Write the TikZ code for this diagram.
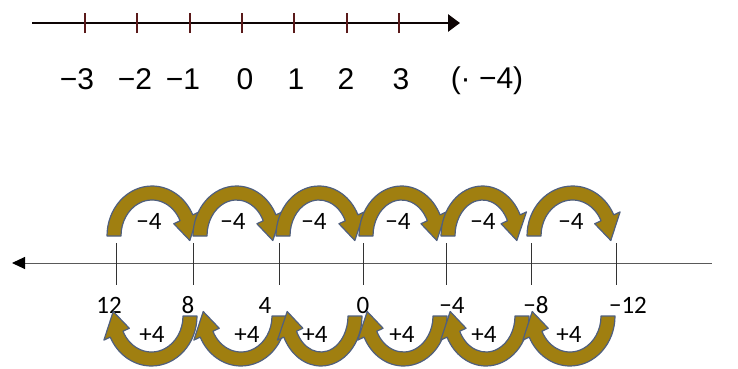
\documentclass[tikz,border=0pt]{standalone}
\usepackage{fontspec}
\usepackage{tikz}
\usetikzlibrary{arrows.meta}
\newfontfamily\arialfont{Liberation Sans}
\newfontfamily\calfont{Carlito}
\definecolor{jumpgold}{HTML}{A07F10}
\definecolor{jumpedge}{HTML}{4F5F7F}
\definecolor{tickred}{HTML}{5A1A1A}

\begin{document}
\begin{tikzpicture}[
            x=1pt, y=1pt,
            axis/.style={line width=2.8pt, draw=black!85!tickred},
            tick/.style={line width=2pt, draw=tickred},
            thinaxis/.style={line width=1pt, draw=black!65},
            thintick/.style={line width=.8pt, draw=black!80},
            jump/.style={fill=jumpgold, draw=jumpedge, line width=1.2pt, line join=round},
            toplbl/.style={font=\arialfont\fontsize{30}{34}\selectfont, inner sep=0pt},
            numlbl/.style={font=\calfont\fontsize{25}{29}\selectfont, inner sep=0pt},
        ]
            \useasboundingbox (0,0) rectangle (738,368);

            % the upper number line with its ticks and labels
            \draw[axis, -{Triangle[length=12pt,width=17pt]}] (32,345) -- (460,345);
            \foreach \i in {0,...,6}{
                \coordinate (top\i) at ({85+52.3*\i},345);
                \draw[tick] (top\i) ++(0,-10) -- ++(0,20);
            }
            \foreach \x/\t/\n in {77/−3/a, 135/−2/b, 183/−1/c, 245/0/d, 296/1/e, 346/2/f, 401/3/g}{
                \node[toplbl] (top-\n) at (\x,289) {\t};
            }
            \node[toplbl] (factor) at (487,287) {(· −4)};

            % the lower number line, running to the left
            \draw[thinaxis, {Triangle[length=13pt,width=12pt,color=black]}-] (12,105) -- (712,105);
            \foreach \x/\t/\n/\lx in {116/12/a/109, 193/8/b/188, 279/4/c/265, 363/0/d/363, 446/−4/e/452, 531/−8/f/536, 616/−12/g/628}{
                \coordinate (bot\n) at (\x,105);
                \draw[thintick] (bot\n) ++(0,20) -- ++(0,-42);
                \node[numlbl] (num-\n) at (\lx,63) {\t};
            }

            % jumps: foot, tip, baseline, turn (0 above the line, 180 below it)
            \foreach \f/\t/\y/\r in {114/190/132/0, 200/273/132/0, 283/355/132/0, 366/437/132/0, 448/517/132/0, 534/611/132/0,
                                     190/113/52/180, 279/203/52/180, 355/287/52/180, 440/367/52/180, 522/450/52/180, 608/532/52/180}{
                \pgfmathsetmacro\cx{(\f+\t)/2}
                \pgfmathsetmacro\rx{abs(\t-\f)/2}
                \pgfmathsetmacro\ro{\rx+7}
                \pgfmathsetmacro\ri{\rx-7}
                \pgfmathsetmacro\wo{\rx+14}
                \pgfmathsetmacro\wi{\rx-14}
                \filldraw[jump, shift={(\cx,\y)}, rotate=\r]
                    (180:{\ri} and 36) -- (180:{\ro} and 50)
                    arc[start angle=180, end angle=25, x radius=\ro, y radius=50]
                    -- (25:{\wo} and 57) -- (-6:{\rx} and 43) -- (25:{\wi} and 29) -- (25:{\ri} and 36)
                    arc[start angle=25, end angle=180, x radius=\ri, y radius=36] -- cycle;
            }

            % step labels inside the jumps
            \foreach \x/\n in {149/a, 233/b, 314/c, 398/d, 483/e, 571/f}{
                \node[numlbl] (minus-\n) at (\x,147) {−4};
            }
            \foreach \x/\n in {152/a, 247/b, 315/c, 402/d, 484/e, 569/f}{
                \node[numlbl] (plus-\n) at (\x,34) {+4};
            }
        \end{tikzpicture}
\end{document}
